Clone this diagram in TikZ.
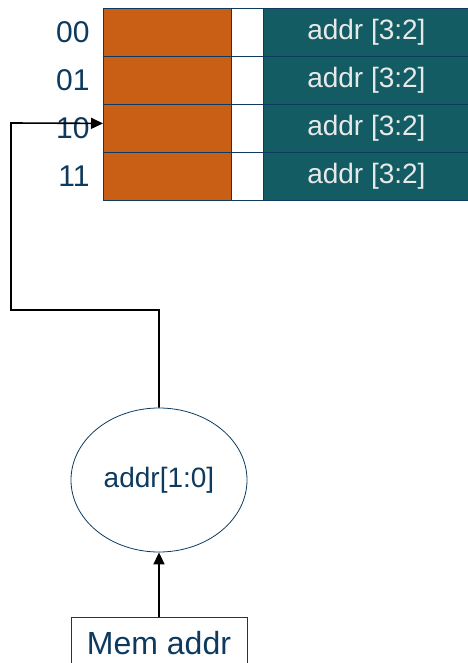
\documentclass[tikz,border=0pt]{standalone}
\usepackage{fontspec}
\setmainfont{Liberation Sans}
\usetikzlibrary{arrows.meta,shapes.geometric}
\definecolor{rust}{HTML}{C85F15}
\definecolor{tealc}{HTML}{145C63}
\definecolor{navy}{HTML}{0D3A5E}
\definecolor{lightt}{HTML}{E8E8E8}
\tikzset{
  cell/.style={draw=navy,line width=0.8pt,anchor=north west,inner sep=0pt,minimum height=48pt},
  link/.style={black,line width=1.6pt,-{Triangle[length=12pt,width=11pt]}}
}

\begin{document}
\begin{tikzpicture}[x=1pt,y=-1pt]
\useasboundingbox (0,0) rectangle (467,663);
% cache lines
\foreach \k/\idx in {0/00,1/01,2/10,3/11}{
  \node[cell,fill=rust,minimum width=128pt] (o\idx) at (103,8+48*\k) {};
  \node[cell,fill=white,minimum width=32pt] (w\idx) at (231,8+48*\k) {};
  \node[cell,fill=tealc,minimum width=206pt,text=lightt,font=\fontsize{28}{32}\selectfont] (t\idx) at (263,8+48*\k) {addr [3:2]};
  \node[anchor=east,text=navy,font=\fontsize{30}{34}\selectfont] (n\idx) at (93,32+48*\k) {\idx};
}
\node[draw=navy,line width=0.8pt,ellipse,minimum width=176pt,minimum height=144pt,inner sep=0pt,text=navy,font=\fontsize{28}{32}\selectfont] (sel) at (159,480) {addr[1:0]};
\node[draw=navy,line width=0.8pt,anchor=north,minimum width=176pt,minimum height=52pt,inner sep=0pt,text=navy,font=\fontsize{32}{36}\selectfont] (mem) at (159,617) {\raisebox{-6pt}{Mem addr}};
\coordinate (up) at (159,310);
\coordinate (left) at (11,310);
\coordinate (top) at (11,123);

\draw[link] (mem.north) -- (sel.south);
\draw[link] (sel.north) -- (up) -- (left) -- (top) -- ([yshift=5pt]o10.west);

\end{tikzpicture}
\end{document}
